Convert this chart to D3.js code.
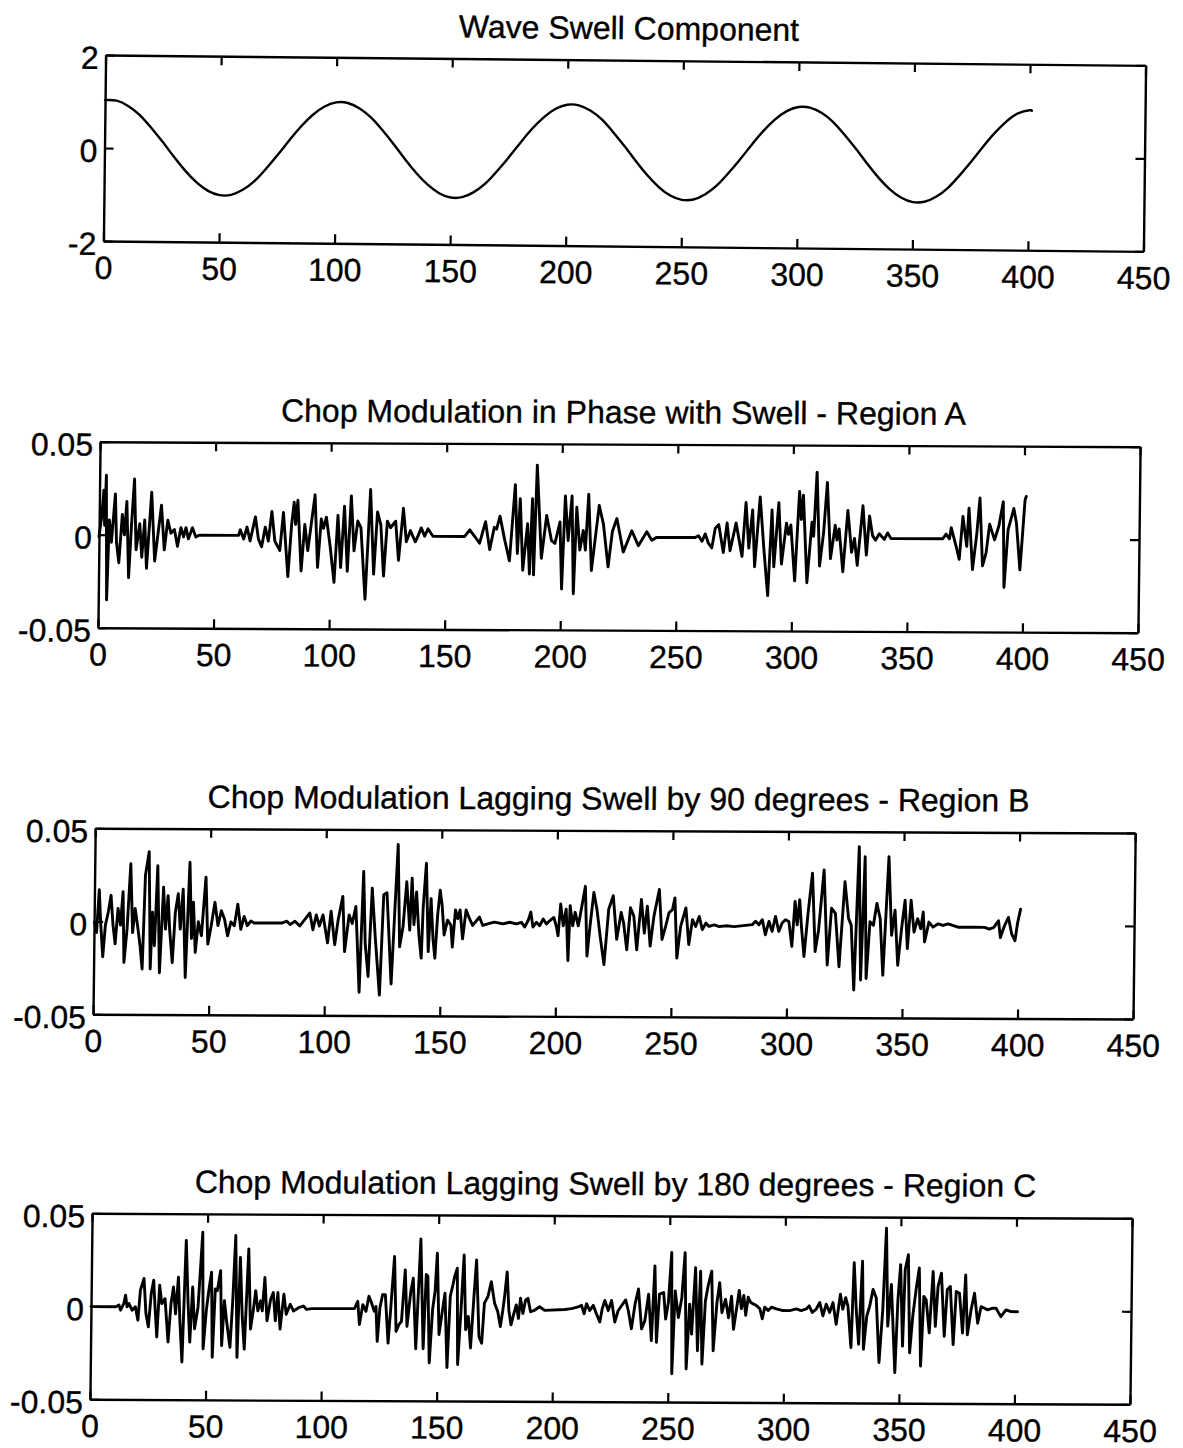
<!DOCTYPE html>
<html>
<head>
<meta charset="utf-8">
<script src="https://cdn.jsdelivr.net/npm/d3@7"></script>
<style>
  html, body { margin: 0; padding: 0; background: #ffffff; }
  svg { display: block; }
</style>
</head>
<body>
<svg id="chart" width="1183" height="1448"></svg>
<script>
// ---------------- DATA ----------------
const panelTitles = [
  "Wave Swell Component",
  "Chop Modulation in Phase with Swell - Region A",
  "Chop Modulation Lagging Swell by 90 degrees - Region B",
  "Chop Modulation Lagging Swell by 180 degrees - Region C"
];

const xTicks = [0, 50, 100, 150, 200, 250, 300, 350, 400, 450];
const swellYTicks = [-2, 0, 2];
const swellYTickLabels = ["-2", "0", "2"];
const chopYTicks = [-0.05, 0, 0.05];
const chopYTickLabels = ["-0.05", "0", "0.05"];

// Wave swell component: [sample, value]
const swell = [
  [0,1.03],[5,1.02],[10,0.91],[15,0.72],[20,0.45],[25,0.15],[30,-0.17],[35,-0.47],[40,-0.72],[45,-0.90],
  [50,-0.99],[55,-0.98],[60,-0.87],[65,-0.68],[70,-0.41],[75,-0.11],[80,0.21],[85,0.51],[90,0.76],[95,0.94],
  [100,1.03],[105,1.02],[110,0.91],[115,0.72],[120,0.45],[125,0.15],[130,-0.17],[135,-0.47],[140,-0.72],[145,-0.90],
  [150,-0.99],[155,-0.98],[160,-0.87],[165,-0.68],[170,-0.41],[175,-0.11],[180,0.21],[185,0.51],[190,0.76],[195,0.94],
  [200,1.03],[205,1.02],[210,0.91],[215,0.72],[220,0.45],[225,0.15],[230,-0.17],[235,-0.47],[240,-0.72],[245,-0.90],
  [250,-0.99],[255,-0.98],[260,-0.87],[265,-0.68],[270,-0.41],[275,-0.11],[280,0.21],[285,0.51],[290,0.76],[295,0.94],
  [300,1.03],[305,1.02],[310,0.91],[315,0.72],[320,0.45],[325,0.15],[330,-0.17],[335,-0.47],[340,-0.72],[345,-0.90],
  [350,-0.99],[355,-0.98],[360,-0.87],[365,-0.68],[370,-0.41],[375,-0.11],[380,0.21],[385,0.51],[390,0.76],[395,0.94],
  [400,1.01],[401,1.00]
];

// Chop modulation, region A (in phase): [sample, value]
const chopA = [
  [0,-0.001],[1.1,0.010],[1.9,0.024],[2.4,0.005],[2.9,0.032],[3.6,-0.035],[4.4,0.008],[5.4,-0.004],[6.9,0.022],[7.6,-0.004],
  [8.7,-0.015],[10.0,0.011],[11.0,0.000],[11.9,0.018],[13.0,-0.023],[14.0,0.005],[15.1,0.030],[16.1,-0.008],[17.6,0.006],[18.6,-0.012],
  [19.7,0.008],[20.7,-0.018],[22.6,0.023],[24.2,-0.014],[26.9,0.016],[28.3,-0.008],[29.7,0.008],[31.1,0.001],[32.6,0.003],[34.0,-0.006],
  [35.4,0.004],[36.6,-0.001],[37.6,0.004],[38.7,-0.002],[40.4,0.004],[41.9,-0.001],[43.3,0.000],[60.4,0.000],[61.1,0.003],[62.6,-0.002],
  [64.0,0.0045],[65.4,-0.003],[67.6,0.010],[69.0,-0.002],[70.4,-0.006],[71.9,0.0045],[73.3,-0.003],[74.7,0.013],[76.1,-0.003],[78.3,-0.008],
  [79.7,0.0125],[81.9,-0.022],[83.3,0.006],[84.3,0.018],[85.0,0.006],[85.9,0.019],[87.6,-0.019],[89.0,0.006],[90.4,-0.008],[93.3,0.022],
  [94.7,-0.017],[96.1,0.009],[97.1,0.004],[98.3,0.010],[100.1,-0.006],[101.9,-0.025],[103.3,0.011],[104.7,-0.017],[106.1,0.016],[107.6,-0.019],
  [109.0,0.0215],[110.4,-0.008],[111.9,0.008],[113.3,0.0045],[115.4,-0.034],[117.3,0.025],[119.0,-0.0205],[120.4,0.013],[121.9,0.006],[123.3,-0.0215],
  [124.7,0.008],[126.1,0.0045],[128.3,0.008],[129.7,-0.013],[131.6,0.015],[133.0,-0.003],[134.7,0.003],[136.9,-0.003],[138.0,0.000],[139.4,0.0045],
  [140.9,0.000],[142.3,0.004],[144.5,0.000],[158.2,0.000],[160.4,0.0036],[162.6,0.000],[164.7,-0.0036],[167.2,0.008],[169.1,-0.007],[171.0,0.005],
  [172.0,0.004],[173.4,0.011],[175.6,-0.002],[177.7,-0.013],[179.9,0.028],[181.1,-0.009],[182.1,0.0205],[183.5,-0.018],[185.4,0.007],[186.4,-0.020],
  [187.4,0.0205],[188.2,-0.0205],[189.3,0.0385],[191.5,-0.0115],[193.6,0.0115],[195.8,-0.002],[197.3,-0.0035],[199.4,0.008],[200.4,-0.028],[201.6,0.022],
  [203.0,-0.002],[204.5,0.022],[205.5,-0.0305],[206.6,0.016],[208.1,-0.007],[209.5,0.0035],[210.5,-0.007],[211.7,0.023],[213.2,-0.018],[214.6,-0.002],
  [216.3,0.017],[218.2,0.007],[220.4,-0.016],[222.1,0.003],[224.0,0.010],[226.9,-0.008],[230.5,0.0035],[233.4,-0.0045],[237.0,0.003],[239.2,-0.0015],
  [241.3,0.000],[258.0,0.000],[259.4,0.001],[260.9,-0.002],[262.3,0.002],[263.7,-0.003],[265.2,-0.0055],[266.6,0.005],[268.1,0.007],[270.2,-0.008],
  [271.7,0.008],[273.1,-0.007],[275.6,0.008],[278.3,-0.010],[279.8,0.019],[281.2,-0.0055],[282.7,0.015],[283.8,-0.0155],[285.9,0.022],[287.7,-0.0055],
  [289.6,-0.031],[291.1,0.015],[292.1,-0.0155],[294.0,0.019],[295.4,-0.014],[297.4,0.008],[298.3,0.002],[299.3,0.007],[301.2,-0.023],[302.9,0.025],
  [303.8,0.010],[304.6,0.023],[306.5,-0.024],[308.4,0.0085],[309.2,0.001],[310.4,0.0355],[311.9,-0.015],[313.5,0.003],[314.9,0.030],[316.6,-0.011],
  [318.5,0.007],[319.3,-0.001],[320.2,0.005],[322.0,-0.018],[323.9,0.015],[325.7,-0.0075],[326.9,0.000],[328.2,-0.0145],[330.4,0.0175],[332.1,-0.009],
  [333.3,0.012],[334.7,0.0015],[336.0,-0.001],[337.6,0.0025],[339.8,-0.0005],[341.2,0.003],[342.7,0.000],[365.1,0.000],[366.5,0.0025],[368.0,0.000],
  [368.7,0.006],[370.9,-0.004],[372.3,-0.011],[373.7,0.012],[375.5,-0.004],[376.3,0.0165],[378.1,-0.0165],[379.8,0.003],[381.0,0.022],[382.4,-0.0145],
  [383.9,-0.0075],[385.3,0.008],[387.5,-0.0005],[389.3,0.007],[391.1,0.020],[391.8,-0.026],[393.3,0.005],[395.7,0.0165],[396.9,0.0085],[398.6,-0.0165],
  [400.5,0.021],[401.0,0.023]
];

// Chop modulation, region B (lagging 90 degrees): [sample, value]
const chopB = [
  [0.1,-0.0004],[1.1,-0.006],[2.1,0.017],[2.8,0.000],[3.9,-0.019],[4.9,-0.002],[6.1,0.005],[7.2,0.014],[8.2,-0.002],[9.2,-0.012],
  [10.3,0.007],[11.4,-0.002],[12.4,0.016],[13.1,-0.022],[14.3,-0.004],[15.6,0.031],[16.7,-0.006],[17.7,0.007],[18.8,-0.002],[20.0,-0.013],
  [21.0,-0.0255],[22.0,0.025],[23.5,0.0375],[24.5,-0.0255],[25.2,0.005],[26.2,-0.013],[27.3,0.030],[28.5,-0.0275],[29.9,0.0185],[30.9,-0.004],
  [31.9,0.014],[32.7,-0.004],[34.0,-0.022],[35.1,0.005],[36.3,0.015],[37.3,-0.004],[38.4,0.0175],[39.7,-0.030],[41.2,0.032],[42.2,-0.009],
  [42.9,0.0105],[43.9,-0.0165],[45.1,0.000],[46.5,-0.0075],[48.2,0.024],[49.3,-0.012],[50.7,-0.002],[52.2,0.0105],[53.6,-0.002],[55.0,0.006],
  [56.4,0.0015],[57.8,-0.0075],[59.2,0.000],[60.7,-0.002],[62.1,0.0095],[63.5,-0.004],[64.9,0.003],[66.3,-0.002],[67.8,0.0005],[69.2,-0.0005],
  [81.2,-0.0005],[83.4,0.0005],[84.8,-0.0013],[86.9,0.0005],[89.0,-0.002],[91.2,0.0015],[93.3,0.005],[94.7,-0.004],[96.1,0.004],[97.5,-0.002],
  [99.0,0.004],[101.1,-0.011],[102.5,0.006],[104.2,-0.012],[105.6,0.0015],[107.5,0.014],[108.5,-0.0157],[110.3,0.004],[111.7,-0.0005],[113.2,0.0086],
  [115.0,-0.0375],[116.4,0.0275],[117.4,-0.0112],[118.8,-0.029],[120.2,0.0185],[121.7,-0.0076],[123.8,-0.039],[125.2,0.015],[126.6,0.016],[128.8,-0.033],
  [131.2,0.042],[132.3,-0.013],[133.7,-0.002],[135.1,0.022],[136.6,-0.004],[137.4,0.024],[138.4,-0.001],[139.4,0.0165],[140.6,-0.0066],[141.7,-0.019],
  [142.3,0.0077],[143.5,0.032],[144.7,-0.0155],[145.7,0.013],[146.7,-0.0085],[147.6,-0.019],[148.6,0.004],[149.6,0.0175],[150.5,0.0095],[151.5,-0.0065],
  [152.9,0.0015],[154.4,-0.0013],[155.1,-0.013],[156.3,0.007],[157.3,0.0023],[158.3,0.007],[159.5,-0.0085],[160.9,0.007],[162.4,0.0023],[163.8,-0.0013],
  [165.6,0.0015],[166.7,0.0032],[168.2,-0.0013],[170.3,-0.0004],[173.2,0.0005],[176.9,-0.0004],[179.8,0.0005],[182.7,-0.0004],[184.9,0.0005],[186.3,-0.002],
  [187.8,0.0015],[188.9,0.006],[189.9,-0.002],[191.4,0.0005],[192.8,-0.0013],[194.3,0.0023],[195.7,-0.0004],[197.2,0.0015],[198.9,0.0032],[200.1,-0.002],
  [200.8,-0.0066],[201.8,0.0104],[203.0,-0.0013],[204.2,0.0077],[205.2,-0.020],[205.9,0.0095],[207.1,-0.0013],[208.1,0.006],[209.5,-0.0013],[211.0,0.0095],
  [212.4,0.020],[213.4,-0.0175],[214.6,-0.0013],[216.1,0.0167],[217.5,0.0077],[219.0,-0.0066],[220.8,-0.022],[222.6,0.0077],[224.5,0.015],[226.2,-0.0084],
  [228.0,0.006],[229.1,0.0005],[230.6,-0.014],[232.0,0.0086],[233.5,0.0041],[234.9,-0.014],[236.7,0.0131],[238.1,-0.005],[239.3,0.0095],[240.7,-0.012],
  [242.2,0.0041],[244.4,0.0185],[245.8,-0.0084],[247.3,-0.0013],[248.7,0.006],[250.2,0.0077],[251.2,0.014],[252.3,-0.0184],[253.8,-0.0013],[256.0,0.0086],
  [257.4,-0.011],[258.9,0.0023],[260.3,-0.0013],[261.8,0.0041],[263.2,-0.003],[264.7,0.0005],[266.1,-0.0013],[268.3,-0.0004],[270.5,-0.0013],[273.4,-0.0009],
  [277.0,-0.0013],[284.8,-0.0002],[286.2,0.0016],[287.7,-0.0002],[289.1,0.0025],[290.5,-0.0056],[292.0,0.0016],[293.4,-0.0038],[294.8,0.0043],[296.3,-0.0038],
  [297.7,0.0007],[299.1,0.0025],[300.6,0.0016],[302.0,-0.0118],[303.2,0.0124],[304.2,-0.0002],[305.2,0.0133],[306.0,-0.0002],[307.3,-0.0172],[308.8,0.0052],
  [310.6,0.0276],[312.1,-0.0145],[313.5,-0.0029],[315.6,0.0294],[317.4,-0.0217],[319.0,0.0088],[320.7,0.0061],[322.5,-0.0226],[324.7,0.0231],[326.4,0.0034],
  [327.6,-0.0002],[329.0,-0.0351],[330.7,0.0419],[331.9,-0.0297],[333.3,0.0366],[334.3,-0.0289],[335.7,0.0016],[337.2,-0.0002],[338.6,0.0115],[340.1,0.0034],
  [341.5,-0.0271],[343.6,0.0366],[345.1,-0.0056],[346.5,0.0079],[347.9,-0.0217],[349.4,-0.002],[350.8,0.0133],[352.0,-0.0127],[353.4,0.0133],[354.8,-0.0038],
  [356.3,0.0034],[357.7,-0.002],[358.7,0.007],[359.4,-0.0091],[361.2,0.0016],[363.0,-0.0011],[365.2,0.0007],[367.3,-0.0002],[369.5,0.0007],[373.8,-0.0011],
  [381.0,-0.0011],[385.3,-0.0011],[387.4,-0.002],[389.3,-0.0011],[391.3,0.0025],[392.2,-0.0065],[393.9,-0.0002],[395.6,0.0043],[397.1,-0.0047],[398.5,-0.0082],
  [399.6,0.0016],[400.8,0.0088]
];

// Chop modulation, region C (lagging 180 degrees): [sample, value]
const chopC = [
  [0,-0.0002],[10.7,-0.0002],[12.1,0.0007],[12.8,-0.002],[14.2,0.0016],[14.9,0.0061],[15.6,-0.0002],[16.4,0.0016],[17.8,-0.002],[19.2,-0.0002],
  [20.35,-0.0073],[21.3,0.0088],[22.8,0.0151],[23.8,-0.0038],[24.9,-0.0109],[26.0,0.007],[27.0,0.0142],[27.8,-0.002],[28.6,-0.0163],[29.6,0.0115],
  [30.6,0.0016],[32.0,0.0043],[33.5,-0.019],[34.6,0.0016],[35.6,0.0106],[36.6,-0.0038],[37.7,0.0159],[38.5,-0.0073],[39.6,-0.0297],[40.9,0.0357],
  [42.0,0.0016],[42.9,-0.019],[43.9,0.0106],[44.9,-0.0118],[46.3,-0.0002],[47.0,0.0159],[48.0,0.0401],[48.7,-0.0226],[49.9,-0.002],[50.9,0.0088],
  [52.0,0.0186],[52.7,-0.0271],[53.7,0.0097],[54.6,0.0088],[55.9,0.0195],[56.7,-0.0208],[57.7,0.0034],[58.7,-0.0073],[60.3,-0.0217],[61.3,0.0034],
  [62.3,0.0384],[63.4,-0.0271],[64.4,0.0267],[65.5,-0.0056],[66.5,-0.0226],[68.0,0.0312],[69.1,-0.0118],[70.2,-0.002],[71.2,0.0088],[72.2,-0.002],
  [73.4,0.0034],[74.1,-0.002],[75.1,0.0159],[76.2,-0.0073],[77.7,0.0043],[78.8,0.0079],[79.8,-0.0073],[80.8,0.0079],[81.9,-0.0118],[83.4,0.007],
  [84.5,-0.0038],[86.2,0.0016],[87.6,-0.002],[89.8,-0.0002],[91.9,0.0007],[93.3,-0.0011],[95.5,-0.0007],[114.0,-0.0005],[115.4,0.0034],[116.2,-0.0091],
  [117.6,0.0016],[119.0,-0.002],[120.2,0.0061],[121.1,0.0034],[122.6,-0.002],[123.3,0.0007],[124.0,-0.0181],[125.0,-0.0002],[126.1,0.007],[127.3,0.007],
  [128.7,-0.019],[129.7,-0.0002],[131.1,0.0276],[132.1,-0.0127],[133.3,-0.0091],[134.4,-0.0073],[135.8,0.0204],[136.8,-0.01],[138.3,0.0088],[139.3,0.0159],
  [140.7,-0.022],[142.4,0.037],[143.9,-0.022],[144.9,0.018],[145.6,0.017],[146.6,-0.0295],[147.8,-0.001],[148.8,0.009],[149.6,0.0295],[150.7,-0.0143],
  [152.1,-0.001],[153.1,0.008],[154.3,-0.032],[155.4,0.0063],[156.5,0.0125],[157.2,0.017],[158.3,0.0214],[158.9,-0.0304],[160.1,-0.001],[161.2,0.0286],
  [162.2,-0.0116],[163.3,-0.0045],[164.4,-0.0214],[165.6,0.0054],[166.6,0.0259],[168.0,-0.0152],[169.2,-0.0188],[170.2,0.0027],[171.7,0.0063],[173.1,0.0143],
  [174.6,0.0027],[176.0,-0.0018],[177.2,-0.0098],[178.2,-0.001],[178.9,0.0063],[179.9,0.0196],[180.8,-0.001],[181.8,-0.0089],[183.0,-0.0027],[184.0,0.0018],
  [185.0,-0.0054],[185.8,0.0054],[186.9,-0.0027],[188.0,0.0045],[189.0,0.0054],[190.2,-0.0018],[191.9,-0.001],[194.1,0.0009],[196.3,-0.001],[205.0,-0.0005],
  [207.9,0.0],[210.8,0.0009],[212.2,0.0018],[213.4,-0.0027],[214.4,0.0027],[215.8,-0.001],[217.3,0.0018],[218.7,-0.0027],[220.2,-0.0071],[221.2,0.0],
  [222.3,0.0045],[223.8,-0.001],[225.2,0.0045],[226.7,-0.0071],[228.1,-0.001],[229.6,0.0018],[231.3,0.0048],[232.5,-0.001],[233.9,-0.0107],[235.4,0.0027],
  [236.8,0.0107],[238.3,-0.0107],[239.7,-0.0063],[241.2,0.008],[242.6,-0.017],[243.8,0.0232],[244.8,-0.0179],[245.9,0.008],[247.7,0.0089],[248.7,-0.0054],
  [249.8,0.0036],[251.0,0.0304],[251.6,-0.0348],[252.7,0.0098],[254.2,-0.0045],[255.6,0.0063],[256.8,0.0304],[257.8,-0.0321],[259.0,0.0027],[260.0,-0.0134],
  [261.4,0.0223],[262.6,-0.0223],[263.6,0.0205],[264.6,-0.0295],[265.8,0.0045],[266.9,0.0125],[268.4,0.0205],[269.4,-0.0223],[270.8,0.0036],[271.9,0.0143],
  [273.0,-0.0018],[274.5,0.0054],[275.9,-0.0045],[277.1,0.0071],[278.1,-0.0107],[280.4,0.0102],[281.4,0.0004],[282.4,0.0075],[283.3,-0.0032],[284.3,0.0066],
  [285.3,0.0039],[286.5,0.003],[287.9,0.0021],[289.4,0.0004],[290.5,-0.005],[291.5,0.0013],[293.0,-0.0005],[294.4,0.0013],[296.5,0.0004],[299.4,-0.0005],
  [302.3,-0.0005],[305.2,0.0004],[307.3,-0.0005],[309.5,0.0004],[310.7,0.0021],[312.1,-0.0014],[313.8,0.0004],[315.3,0.0039],[316.7,-0.0032],[318.1,0.003],
  [319.6,-0.0014],[321.0,0.0039],[322.5,-0.0077],[324.2,0.0084],[325.3,0.0004],[326.5,0.0066],[327.5,0.0021],[329.0,-0.0202],[330.0,0.0254],[331.1,0.0004],
  [332.3,-0.0184],[333.6,0.0263],[334.4,-0.0211],[335.7,-0.0032],[336.9,0.0021],[338.3,0.0111],[339.7,0.0066],[341.2,-0.0282],[342.6,0.0004],[343.8,0.0441],
  [344.8,-0.0086],[346.2,0.0138],[348.1,-0.0336],[349.1,0.0057],[350.1,0.0245],[351.3,-0.0193],[352.1,0.0218],[353.4,0.0298],[354.4,-0.0229],[355.6,-0.0032],
  [357.0,0.012],[358.2,0.0227],[359.2,-0.03],[360.3,0.0075],[361.3,0.0057],[362.8,-0.0121],[364.2,0.0209],[365.4,-0.0086],[366.4,0.0129],[367.8,0.02],
  [369.3,-0.0139],[370.4,0.0111],[371.7,0.0129],[373.2,-0.0184],[374.3,0.0102],[375.7,0.0093],[377.2,-0.0121],[378.3,0.0191],[379.3,-0.013],[380.8,0.0004],
  [382.2,0.0093],[383.7,-0.0068],[385.1,0.0021],[386.5,0.0013],[388.0,0.0004],[390.1,0.0013],[391.6,0.0013],[393.7,-0.0032],[395.9,0.0004],[398.1,-0.0005],
  [400.9,-0.0005]
];

// ---------------- LAYOUT ----------------
const FONT = "'Liberation Sans', Arial, Helvetica, sans-serif";
const W = 1040, H = 186;
const TICK = 9;

// Each panel frame: top-left corner in the page plus the slight skew of the scanned page.
const panels = [
  { title: panelTitles[0], data: swell, yDomain: [-2, 2], yTicks: swellYTicks, yLabels: swellYTickLabels,
    curve: d3.curveNatural, left: 105.6, top: 55.0, ky: 0.0100, lw: 2.4 },
  { title: panelTitles[1], data: chopA, yDomain: [-0.05, 0.05], yTicks: chopYTicks, yLabels: chopYTickLabels,
    curve: d3.curveLinear, left: 100.1, top: 441.7, ky: 0.0048, lw: 2.9 },
  { title: panelTitles[2], data: chopB, yDomain: [-0.05, 0.05], yTicks: chopYTicks, yLabels: chopYTickLabels,
    curve: d3.curveLinear, left: 95.2, top: 828.3, ky: 0.0045, lw: 2.9 },
  { title: panelTitles[3], data: chopC, yDomain: [-0.05, 0.05], yTicks: chopYTicks, yLabels: chopYTickLabels,
    curve: d3.curveLinear, left: 92.1, top: 1213.3, ky: 0.0048, lw: 2.9 }
];
const KX = 0.0117;

const svg = d3.select("#chart");
svg.append("rect").attr("width", 1183).attr("height", 1448).attr("fill", "#ffffff");

panels.forEach(p => {
  const g = svg.append("g")
    .attr("transform", `matrix(1,${p.ky},${-KX},1,${p.left},${p.top})`);

  const x = d3.scaleLinear().domain([0, 450]).range([0, W]);
  const y = d3.scaleLinear().domain(p.yDomain).range([H, 0]);

  // Title
  g.append("text")
    .attr("x", W / 2 + 3)
    .attr("y", -21)
    .attr("text-anchor", "middle")
    .attr("font-family", FONT)
    .attr("font-size", 32)
    .attr("fill", "#000")
    .attr("stroke", "#000")
    .attr("stroke-width", 0.35)
    .text(p.title);

  // Data line
  const line = d3.line()
    .x(d => x(d[0]))
    .y(d => y(d[1]))
    .curve(p.curve);
  g.append("path")
    .datum(p.data)
    .attr("d", line)
    .attr("fill", "none")
    .attr("stroke", "#000")
    .attr("stroke-width", p.lw)
    .attr("stroke-linejoin", "round")
    .attr("stroke-linecap", "round");

  // Axes (MATLAB style: inward ticks on all four sides)
  const styleAxis = sel => {
    sel.select(".domain").attr("stroke", "#000").attr("stroke-width", 2.4);
    sel.selectAll(".tick line").attr("stroke", "#000").attr("stroke-width", 2.2);
    sel.selectAll(".tick text")
      .attr("font-family", FONT)
      .attr("font-size", 32)
      .attr("fill", "#000")
      .attr("stroke", "#000")
      .attr("stroke-width", 0.35);
  };

  const bottom = g.append("g").attr("transform", `translate(0,${H})`)
    .call(d3.axisBottom(x).tickValues(xTicks).tickFormat(d3.format("d"))
      .tickSizeInner(-TICK).tickSizeOuter(0).tickPadding(15));
  styleAxis(bottom);

  const top = g.append("g")
    .call(d3.axisTop(x).tickValues(xTicks).tickFormat(() => "")
      .tickSizeInner(-TICK).tickSizeOuter(0));
  styleAxis(top);

  const left = g.append("g")
    .call(d3.axisLeft(y).tickValues(p.yTicks).tickFormat((d, i) => p.yLabels[i])
      .tickSizeInner(-TICK).tickSizeOuter(0).tickPadding(7));
  styleAxis(left);
  left.selectAll(".tick text").attr("dy", "0.42em");

  const right = g.append("g").attr("transform", `translate(${W},0)`)
    .call(d3.axisRight(y).tickValues(p.yTicks).tickFormat(() => "")
      .tickSizeInner(-TICK).tickSizeOuter(0));
  styleAxis(right);
});
</script>
</body>
</html>
